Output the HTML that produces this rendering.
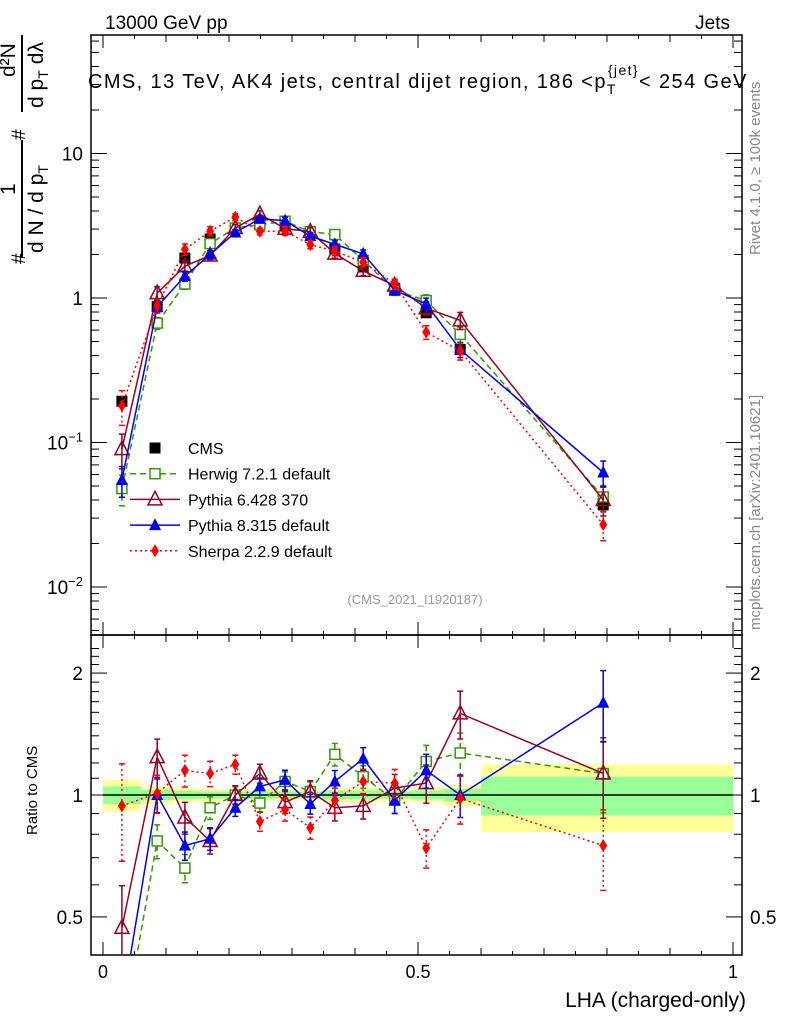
<!DOCTYPE html>
<html><head><meta charset="utf-8"><style>
html,body{margin:0;padding:0;background:#fff;overflow:hidden}
svg{display:block}
svg text{font-family:"Liberation Sans",sans-serif}
</style></head><body>
<svg id="chart" width="786" height="1024" xmlns="http://www.w3.org/2000/svg">
<rect width="786" height="1024" fill="#fff"/>
<g id="bands"></g>
<g id="axes"></g>
<g id="series"></g>
<text x="105" y="29" font-size="19">13000 GeV pp</text>
<text x="730" y="29" font-size="19" text-anchor="end">Jets</text>
<text x="88" y="88" font-size="20" letter-spacing="1.4">CMS, 13 TeV, AK4 jets, central dijet region, 186 &lt;p<tspan font-size="14" dy="6">T</tspan><tspan font-size="14" dx="-9" dy="-19">{jet}</tspan><tspan dy="13">&lt; 254 GeV</tspan></text>
<text x="415" y="604" font-size="13" fill="#999" text-anchor="middle">(CMS_2021_I1920187)</text>
<text transform="translate(760,255) rotate(-90)" font-size="15" fill="#888">Rivet 4.1.0, ≥ 100k events</text>
<text transform="translate(760,630) rotate(-90)" font-size="15" fill="#888">mcplots.cern.ch [arXiv:2401.10621]</text>
<g font-size="21">
<text transform="translate(15,77) rotate(-90)" >d²N</text>
<line x1="22" y1="35" x2="22" y2="112" stroke="#000" stroke-width="2"/>
<text transform="translate(43,108) rotate(-90)">d p<tspan font-size="14" dy="5">T</tspan><tspan dx="6" dy="-5">dλ</tspan></text>
<text transform="translate(25,140) rotate(-90)" font-size="19">#</text>
<text transform="translate(15,195) rotate(-90)">1</text>
<line x1="22" y1="140" x2="22" y2="258" stroke="#000" stroke-width="2"/>
<text transform="translate(43,253) rotate(-90)">d N / d p<tspan font-size="14" dy="5">T</tspan></text>
<text transform="translate(25,264) rotate(-90)" font-size="19">#</text>
</g>
<text transform="translate(37,835) rotate(-90)" font-size="15">Ratio to CMS</text>
<text x="746" y="1007" font-size="21" text-anchor="end">LHA (charged-only)</text>
<g id="legend"></g>
</svg>
<script>
const xs = [0.030,0.086,0.130,0.170,0.210,0.249,0.289,0.329,0.368,0.413,0.463,0.513,0.567,0.794];
const binEdges = [0,0.06,0.11,0.15,0.19,0.23,0.27,0.31,0.35,0.39,0.44,0.49,0.54,0.6,1.0];
const bandYellow = [0.09,0.05,0.04,0.035,0.03,0.03,0.03,0.03,0.04,0.04,0.035,0.04,0.06,0.19];
const bandGreen = [0.05,0.03,0.025,0.02,0.02,0.02,0.02,0.02,0.025,0.025,0.02,0.025,0.035,0.11];
const cms = [0.193,0.87,1.89,2.56,3.05,3.36,3.15,2.82,2.18,1.64,1.17,0.79,0.44,0.037];
const herwig = [0.048,0.67,1.25,2.38,3.05,3.21,3.40,2.88,2.75,1.82,1.13,0.96,0.56,0.042];
const pythia6 = [0.09,1.08,1.66,1.97,3.05,3.80,3.02,2.88,2.03,1.54,1.22,0.85,0.70,0.040];
const pythia8 = [0.055,0.87,1.42,2.0,2.84,3.53,3.43,2.68,2.35,2.02,1.13,0.91,0.44,0.062];
const sherpa = [0.18,0.88,2.17,2.9,3.63,2.89,2.9,2.34,2.11,1.77,1.25,0.58,0.43,0.027];
const herwigRatio = [0.25,0.77,0.66,0.93,1.0,0.955,1.08,1.02,1.26,1.11,0.97,1.21,1.27,1.13];
const pythia6Ratio = [0.47,1.24,0.88,0.77,1.0,1.13,0.96,1.02,0.93,0.94,1.04,1.07,1.59,1.13];
const pythia8Ratio = [0.30,1.0,0.75,0.78,0.93,1.05,1.09,0.95,1.08,1.23,0.97,1.15,1.0,1.69];
const sherpaRatio = [0.94,1.01,1.15,1.13,1.19,0.86,0.92,0.83,0.97,1.08,1.07,0.74,0.98,0.75];
const relErr = [0.3,0.12,0.1,0.08,0.06,0.06,0.07,0.07,0.08,0.08,0.09,0.12,0.15,0.25];
const legendLabels = ["CMS","Herwig 7.2.1 default","Pythia 6.428 370","Pythia 8.315 default","Sherpa 2.2.9 default"];

const NS="http://www.w3.org/2000/svg";
const X0=91,X1=742,MT=35,MB=635,RB=955;
const xp=v=>103+v*630;
const yMain=v=>298-144.5*Math.log10(v);
const yRatio=v=>795-405*Math.log10(v);
function mk(tag,attrs,parent){const e=document.createElementNS(NS,tag);for(const k in attrs)e.setAttribute(k,attrs[k]);parent.appendChild(e);return e;}
const axes=document.getElementById('axes'),series=document.getElementById('series'),bands=document.getElementById('bands'),legend=document.getElementById('legend');

binEdges.slice(0,-1).forEach((e,i)=>{
  const x1=xp(e),x2=xp(binEdges[i+1]);
  const y=mk('rect',{x:x1,y:yRatio(1+bandYellow[i]),width:x2-x1,height:yRatio(1-bandYellow[i])-yRatio(1+bandYellow[i]),fill:'#ffff99'},bands);
  
  
  const g=mk('rect',{x:x1,y:yRatio(1+bandGreen[i]),width:x2-x1,height:yRatio(1-bandGreen[i])-yRatio(1+bandGreen[i]),fill:'#99ff99'},bands);
  
  
});
mk('line',{x1:103,y1:795,x2:733,y2:795,stroke:'#000','stroke-width':1.5},axes);

mk('rect',{x:X0,y:MT,width:X1-X0,height:MB-MT,fill:'none',stroke:'#000','stroke-width':1.5},axes);
mk('rect',{x:X0,y:MB,width:X1-X0,height:RB-MB,fill:'none',stroke:'#000','stroke-width':1.5},axes);
for(let i=0;i<=20;i++){const v=i*0.05,x=xp(v);const L=i%10==0?13:(i%2==0?7:4);
  [[MB,-1],[MT,1],[RB,-1]].forEach(([y,d])=>mk('line',{x1:x,y1:y,x2:x,y2:y+d*L,stroke:'#000'},axes));
  mk('line',{x1:x,y1:MB,x2:x,y2:MB+L,stroke:'#000'},axes);
}
[["0",0],["0.5",0.5],["1",1]].forEach(([t,v])=>{const e=mk('text',{x:xp(v),y:978,'font-size':18,'text-anchor':'middle'},axes);e.textContent=t;
  
  });
for(let d=-3;d<=1;d++)for(let m=1;m<10;m++){const v=m*Math.pow(10,d),y=yMain(v);if(y<MT||y>MB)continue;const L=m==1?16:8;
  mk('line',{x1:X0,y1:y,x2:X0+L,y2:y,stroke:'#000'},axes);mk('line',{x1:X1,y1:y,x2:X1-L,y2:y,stroke:'#000'},axes);}
[["10",10],["1",1]].forEach(([t,v])=>{const e=mk('text',{x:83,y:yMain(v)+7,'font-size':19,'text-anchor':'end'},axes);e.textContent=t;
  
  });
[["−1",0.1],["−2",0.01]].forEach(([t,v])=>{const e=mk('text',{x:83,y:yMain(v)+7,'font-size':19,'text-anchor':'end'},axes);e.innerHTML='10<tspan font-size="13" dy="-8">'+t+'</tspan>';
  
  });
[0.4,0.5,0.6,0.7,0.8,0.9,1,1.1,1.2,1.3,1.4,1.5,1.6,1.7,1.8,1.9,2,2.1,2.2,2.3].forEach(v=>{const y=yRatio(v);if(y<MB||y>RB)return;const L=(v==0.5||v==1||v==2)?16:8;
  mk('line',{x1:X0,y1:y,x2:X0+L,y2:y,stroke:'#000'},axes);mk('line',{x1:X1,y1:y,x2:X1-L,y2:y,stroke:'#000'},axes);});
[["2",2],["1",1],["0.5",0.5]].forEach(([t,v])=>{[[83,'end'],[750,'start']].forEach(([x,a])=>{const e=mk('text',{x:x,y:yRatio(v)+7,'font-size':19,'text-anchor':a},axes);e.textContent=t;
  
  });});

function marker(type,x,y,col,p){
  if(type=='sq')mk('rect',{x:x-5.5,y:y-5.5,width:11,height:11,fill:'#000'},p);
  if(type=='osq')mk('rect',{x:x-5,y:y-5,width:10,height:10,fill:'#fff',stroke:col,'stroke-width':1.5},p);
  if(type=='otri')mk('polygon',{points:`${x},${y-8} ${x-7},${y+5.5} ${x+7},${y+5.5}`,fill:'none',stroke:col,'stroke-width':1.5},p);
  if(type=='tri')mk('polygon',{points:`${x},${y-7} ${x-6},${y+5} ${x+6},${y+5}`,fill:col},p);
  if(type=='dia')mk('polygon',{points:`${x},${y-6.5} ${x-4},${y} ${x},${y+6.5} ${x+4},${y}`,fill:col},p);
}
const clipM=mk('clipPath',{id:'cm'},series);mk('rect',{x:X0,y:MT,width:X1-X0,height:MB-MT},clipM);
const clipR=mk('clipPath',{id:'cr'},series);mk('rect',{x:X0,y:MB,width:X1-X0,height:RB-MB},clipR);
function drawSeries(name,vals,ratio,col,dash,type,errScale,withRatio){
  const sets=[[vals,yMain,'cm']];
  if(withRatio)sets.push([ratio,yRatio,'cr']);
  sets.forEach(([arr,yf,cl])=>{
    const g=mk('g',{'clip-path':`url(#${cl})`},series);
    
    
    if(col)mk('polyline',{points:arr.map((v,i)=>xp(xs[i])+','+yf(v)).join(' '),fill:'none',stroke:col,'stroke-width':1.5,'stroke-dasharray':dash},g);
    arr.forEach((v,i)=>{const x=xp(xs[i]),e=relErr[i]*errScale;
      mk('line',{x1:x,y1:yf(v*(1+e)),x2:x,y2:yf(Math.max(v*(1-e),1e-4)),stroke:col||'#000','stroke-width':1.5,'stroke-dasharray':dash},g);
      [v*(1+e),v*(1-e)].forEach(w=>mk('line',{x1:x-3,y1:yf(w),x2:x+3,y2:yf(w),stroke:col||'#000','stroke-width':1.5},g));
      marker(type,x,yf(v),col||'#000',g);});
  });
}
drawSeries('cms',cms,null,null,'','sq',0.15,false);
drawSeries('herwig',herwig,herwigRatio,'#339900','6,4','osq',0.8,true);
drawSeries('pythia6',pythia6,pythia6Ratio,'#990022','','otri',0.9,true);
drawSeries('pythia8',pythia8,pythia8Ratio,'#0000ee','','tri',0.8,true);
drawSeries('sherpa',sherpa,sherpaRatio,'#ff0000','2,3','dia',0.9,true);

const legCols=[null,'#339900','#990022','#0000ee','#ff0000'],legTypes=['sq','osq','otri','tri','dia'],legDash=['','6,4','','','2,3'];
legendLabels.forEach((t,i)=>{const y=448+i*25.7;
  const g=mk('g',{},legend);
  
  
  if(legCols[i])mk('line',{x1:130,y1:y,x2:180,y2:y,stroke:legCols[i],'stroke-width':1.5,'stroke-dasharray':legDash[i]},g);
  marker(legTypes[i],155,y,legCols[i]||'#000',g);
  const e=mk('text',{x:188,y:y+6,'font-size':16},g);e.textContent=t;});
</script>
</body></html>
